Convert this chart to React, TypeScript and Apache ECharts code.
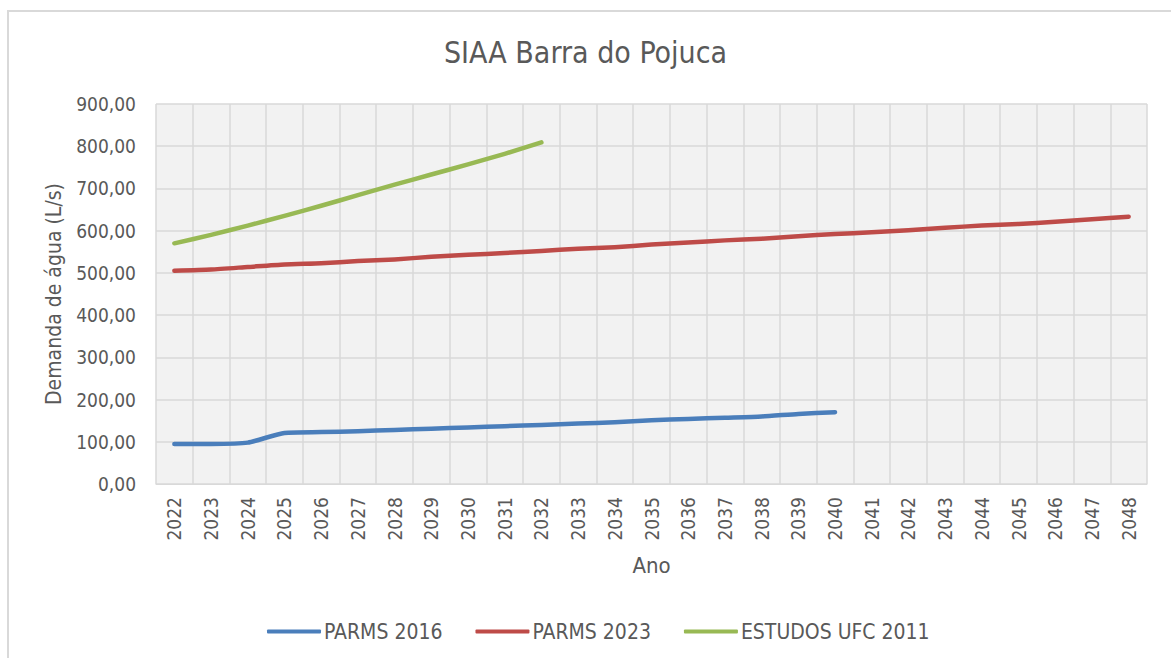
import React, { useEffect, useRef } from "react";
import * as echarts from "echarts";

const years: string[] = [
  "2022", "2023", "2024", "2025", "2026", "2027", "2028", "2029", "2030",
  "2031", "2032", "2033", "2034", "2035", "2036", "2037", "2038", "2039",
  "2040", "2041", "2042", "2043", "2044", "2045", "2046", "2047", "2048",
];

const parms2016: (number | null)[] = [
  95, 95, 98, 121, 123, 125, 128, 131, 134, 137, 140, 143, 146, 151, 154,
  157, 160, 166, 170,
];

const parms2023: number[] = [
  505, 508, 514, 520, 523, 528, 532, 538, 543, 547, 552, 557, 561, 567, 572,
  577, 581, 587, 592, 596, 601, 607, 612, 616, 621, 627, 633,
];

const estudosUfc2011: number[] = [
  570, 590, 612, 635, 659, 684, 709, 733, 757, 782, 809,
];

const seriesNames = ["PARMS 2016", "PARMS 2023", "ESTUDOS UFC 2011"];
const seriesColors = ["#4a7ebb", "#be4b48", "#98b954"];

const FONT = "'DejaVu Sans Condensed', 'Liberation Sans', sans-serif";
const TEXT = "#595959";

export default function App() {
  const ref = useRef<HTMLDivElement>(null);
  useEffect(() => {
    if (!ref.current) return;
    const chart = echarts.init(ref.current, undefined, { renderer: "svg" });
    const fmt = (v: number) => v.toFixed(2).replace(".", ",");
    const data = [parms2016, parms2023, estudosUfc2011];
    chart.setOption({
      animation: false,
      backgroundColor: "#ffffff",
      textStyle: { fontFamily: FONT, color: TEXT },
      graphic: [
        {
          type: "rect",
          shape: { x: 8, y: 11, width: 1180, height: 670 },
          style: { fill: "none", stroke: "#d9d9d9", lineWidth: 2 },
          silent: true,
        },
      ],
      title: {
        text: "SIAA Barra do Pojuca",
        left: "center",
        top: 32,
        textStyle: { fontFamily: FONT, fontSize: 30, fontWeight: "normal", color: TEXT },
      },
      legend: {
        data: seriesNames,
        top: 616,
        left: 262,
        icon: "roundRect",
        itemWidth: 54,
        itemHeight: 4,
        itemGap: 33,
        textStyle: { fontFamily: FONT, fontSize: 21, color: TEXT, padding: [0, 0, 0, -2] },
      },
      grid: { left: 156, top: 104, right: 24, bottom: 174, containLabel: false, show: true, backgroundColor: "#f2f2f2", borderWidth: 0 },
      xAxis: {
        type: "category",
        data: years,
        boundaryGap: true,
        name: "Ano",
        nameLocation: "middle",
        nameGap: 70,
        nameTextStyle: { fontFamily: FONT, fontSize: 22, color: TEXT },
        axisLine: { show: true, lineStyle: { color: "#d9d9d9", width: 1 } },
        axisTick: { show: false },
        axisLabel: { rotate: 90, margin: 13, fontSize: 19, fontFamily: FONT, color: TEXT, interval: 0 },
        splitLine: { show: true, interval: 0, lineStyle: { color: "#d9d9d9", width: 1.5 } },
      },
      yAxis: {
        type: "value",
        min: 0,
        max: 900,
        interval: 100,
        name: "Demanda de água (L/s)",
        nameLocation: "middle",
        nameRotate: 90,
        nameGap: 92,
        nameTextStyle: { fontFamily: FONT, fontSize: 21, color: TEXT },
        axisLine: { show: false },
        axisTick: { show: false },
        axisLabel: { formatter: fmt, margin: 20, fontSize: 19, fontFamily: FONT, color: TEXT },
        splitLine: { show: true, lineStyle: { color: "#d9d9d9", width: 1.5 } },
      },
      series: seriesNames.map((name, i) => ({
        name,
        type: "line",
        data: data[i],
        smooth: 0.2,
        showSymbol: false,
        symbol: "none",
        color: seriesColors[i],
        lineStyle: { width: 4.5, color: seriesColors[i], cap: "round", join: "round" },
      })),
    });
    return () => chart.dispose();
  }, []);
  return (
    <div
      ref={ref}
      style={{ position: "absolute", left: 0, top: 0, width: 1171, height: 658 }}
    />
  );
}
